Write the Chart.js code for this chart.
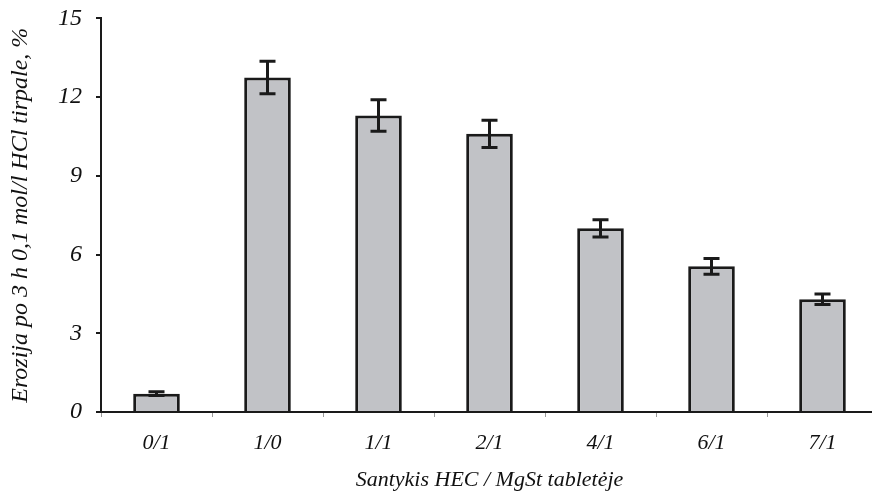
<!DOCTYPE html>
<html>
<head>
<meta charset="utf-8">
<script src="https://cdn.jsdelivr.net/npm/chart.js@4/dist/chart.umd.min.js"></script>
<style>
  html, body { margin: 0; padding: 0; background: #fff; overflow: hidden; }
  #wrap { width: 880px; height: 503px; margin-top: -10px; }
</style>
</head>
<body>
<div id="wrap"><canvas id="myChart"></canvas></div>
<script>
// ratios HEC / MgSt
var categories = ['0/1', '1/0', '1/1', '2/1', '4/1', '6/1', '7/1'];
var erosion = [0.7, 12.75, 11.3, 10.6, 7.0, 5.55, 4.3];
var errors = [0.07, 0.62, 0.6, 0.52, 0.33, 0.3, 0.2];
var yTicks = [0, 3, 6, 9, 12, 15];

var serif = '"Liberation Serif", "DejaVu Serif", serif';

// error bars drawn over the bars
var errorBars = {
  id: 'errorBars',
  afterDatasetsDraw: function(chart) {
    var ctx = chart.ctx;
    var y = chart.scales.y;
    var meta = chart.getDatasetMeta(0);
    ctx.save();
    ctx.strokeStyle = '#1a1a1a';
    ctx.lineWidth = 3;
    meta.data.forEach(function(bar, i) {
      var top = y.getPixelForValue(erosion[i] + errors[i]);
      var bot = y.getPixelForValue(erosion[i] - errors[i]);
      ctx.beginPath();
      ctx.moveTo(bar.x, top); ctx.lineTo(bar.x, bot);
      ctx.moveTo(bar.x - 8, top); ctx.lineTo(bar.x + 8, top);
      ctx.moveTo(bar.x - 8, bot); ctx.lineTo(bar.x + 8, bot);
      ctx.stroke();
    });
    ctx.restore();
  }
};

var ctx = document.getElementById('myChart');
var chart = new Chart(ctx, {
  type: 'bar',
  data: {
    labels: categories,
    datasets: [{
      data: erosion,
      backgroundColor: '#c1c2c6',
      borderColor: '#1a1a1a',
      borderWidth: 3,
      barPercentage: 0.42,
      categoryPercentage: 1.0
    }]
  },
  options: {
    responsive: true,
    maintainAspectRatio: false,
    animation: false,
    layout: { padding: { top: 0, right: 2, left: 0, bottom: 0 } },
    plugins: {
      legend: { display: false },
      tooltip: { enabled: false }
    },
    scales: {
      x: {
        grid: { drawOnChartArea: false, tickLength: 5, color: '#999', offset: true },
        border: { color: '#1a1a1a', width: 2 },
        ticks: { color: '#111', font: { family: serif, size: 22, style: 'italic' }, padding: 13 },
        title: {
          display: true,
          text: 'Santykis HEC / MgSt tabletėje',
          color: '#111',
          font: { family: serif, size: 22, style: 'italic' },
          padding: { top: 10, bottom: 0 }
        },
        afterFit: function(scale) { scale.height = 81; }
      },
      y: {
        min: 0,
        max: 15,
        afterBuildTicks: function(scale) {
          scale.ticks = yTicks.map(function(v) { return { value: v }; });
        },
        grid: { drawOnChartArea: false, tickLength: 5, color: '#1a1a1a', lineWidth: 2 },
        border: { color: '#1a1a1a', width: 2 },
        ticks: { color: '#111', font: { family: serif, size: 24, style: 'italic' }, padding: 14 },
        title: {
          display: true,
          text: 'Erozija po 3 h 0,1 mol/l HCl tirpale, %',
          color: '#111',
          font: { family: serif, size: 24, style: 'italic' },
          padding: { top: 6, bottom: 0 }
        },
        afterFit: function(scale) { scale.width = 101; }
      }
    }
  },
  plugins: [errorBars]
});
</script>
</body>
</html>
